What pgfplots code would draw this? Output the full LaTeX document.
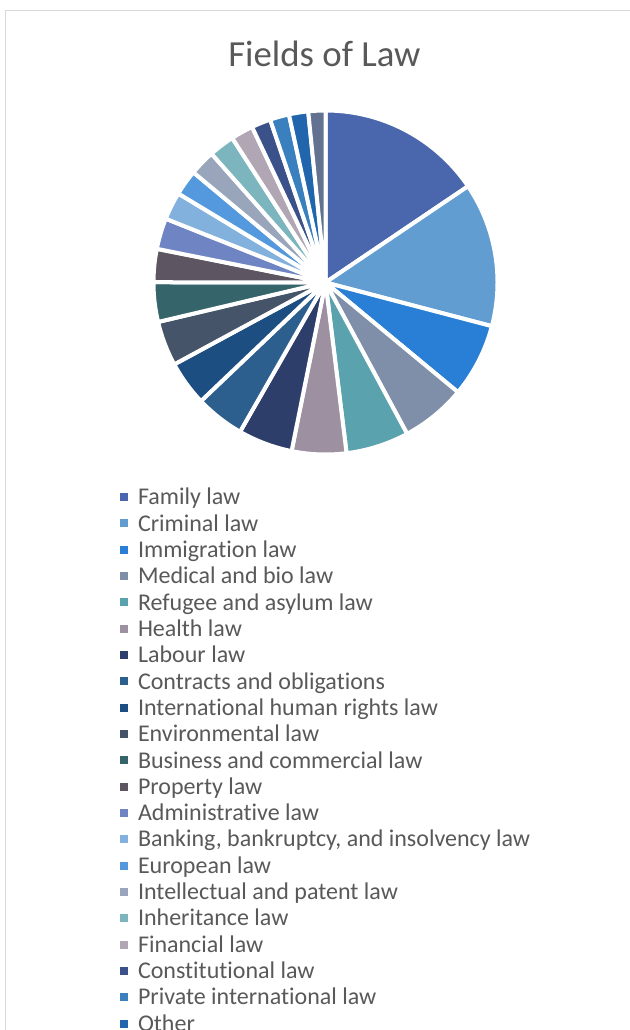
\documentclass[border=0pt]{standalone}
\usepackage{pgfplots}
\usepackage{pgfplotstable}
\pgfplotsset{compat=1.18}
\usepackage{fontspec}
\setmainfont{Carlito}[Ligatures=NoCommon]

\definecolor{txt}{HTML}{595959}
\definecolor{frame}{HTML}{D9D9D9}
\definecolor{s1}{HTML}{4A66AC}
\definecolor{s2}{HTML}{629DD1}
\definecolor{s3}{HTML}{297FD5}
\definecolor{s4}{HTML}{7F8FA9}
\definecolor{s5}{HTML}{5AA2AE}
\definecolor{s6}{HTML}{9D90A0}
\definecolor{s7}{HTML}{2D3E6A}
\definecolor{s8}{HTML}{2C5F8D}
\definecolor{s9}{HTML}{1D4E82}
\definecolor{s10}{HTML}{465469}
\definecolor{s11}{HTML}{35656B}
\definecolor{s12}{HTML}{5E5562}
\definecolor{s13}{HTML}{6E84C3}
\definecolor{s14}{HTML}{81B1DC}
\definecolor{s15}{HTML}{5499DD}
\definecolor{s16}{HTML}{98A5BB}
\definecolor{s17}{HTML}{7CB5BD}
\definecolor{s18}{HTML}{B1A6B3}
\definecolor{s19}{HTML}{3B5189}
\definecolor{s20}{HTML}{3A80BF}
\definecolor{s21}{HTML}{2166AC}
\definecolor{s22}{HTML}{627290}

% share of each field (percent)
\pgfplotstableread[col sep=semicolon]{
name;share
Family law;15.5
Criminal law;13.5
Immigration law;6.9
Medical and bio law;6.1
Refugee and asylum law;5.9
Health law;5.1
Labour law;5.1
Contracts and obligations;4.6
International human rights law;4.2
Environmental law;4.2
Business and commercial law;3.7
Property law;3.1
Administrative law;2.9
Banking, bankruptcy, and insolvency law;2.6
European law;2.4
Intellectual and patent law;2.4
Inheritance law;2.4
Financial law;2.1
Constitutional law;1.8
Private international law;1.8
Other;1.8
(cut off);1.6
}\lawtable

\begin{document}
\begin{tikzpicture}
\xdef\total{0}
\foreach \i in {0,...,21}{
  \pgfplotstablegetelem{\i}{share}\of\lawtable
  \pgfmathsetmacro\tmp{\total+\pgfplotsretval}
  \xdef\total{\tmp}
}
\pgfmathsetmacro\degper{360/\total}
\begin{scope}
\clip (0,0) rectangle (472.5pt,772.5pt);
\fill[white] (0,0) rectangle (472.5pt,772.5pt);
\draw[frame, line width=0.75pt] (3.75pt,-5pt) -- (3.75pt,764.25pt) -- (480pt,764.25pt);
\begin{axis}[
    at={(244.125pt,560.625pt)}, anchor=origin,
    x=129pt, y=129pt,
    xmin=-1, xmax=1, ymin=-1, ymax=1,
    hide axis, clip=false,
    title={Fields of Law},
    title style={at={(0.497,1.106)}, anchor=base, font=\fontsize{27.6}{30}\selectfont, text=txt},
    legend cell align=left,
    legend image code/.code={
        \fill[#1, draw=none] (0pt,-3pt) rectangle (6pt,3pt);
        \path (12pt,0pt);
    },
    legend style={at={(-0.0973,-0.0857)}, anchor=north west,
        draw=none, fill=none, inner sep=0pt, outer sep=0pt, row sep=0pt,
        font=\fontsize{18}{20}\selectfont, text=txt,
        nodes={inner xsep=0pt, inner ysep=1.62pt, text height=14pt, text depth=2.5pt}},
]
\xdef\cum{0}
\foreach \i in {0,...,21}{
  \pgfplotstablegetelem{\i}{share}\of\lawtable
  \pgfmathsetmacro\angA{90-\cum*\degper}
  \pgfmathsetmacro\newcum{\cum+\pgfplotsretval}
  \pgfmathsetmacro\angB{90-\newcum*\degper}
  \pgfmathtruncatemacro\k{\i+1}
  \edef\slice{\noexpand\addplot[fill=s\k, draw=white, line width=3pt,
      line join=round, domain=\angB:\angA, samples=60]
      ({cos(x)},{sin(x)}) -- (axis cs:0,0) -- cycle;}
  \slice
  \pgfplotstablegetelem{\i}{name}\of\lawtable
  \ifnum\k<22
    \edef\leg{\noexpand\addlegendentry{\unexpanded\expandafter{\pgfplotsretval}}}
    \leg
  \fi
  \xdef\cum{\newcum}
}
\end{axis}
\end{scope}
\pgfresetboundingbox
\useasboundingbox (0,0) rectangle (472.5pt,772.5pt);
\end{tikzpicture}
\end{document}
